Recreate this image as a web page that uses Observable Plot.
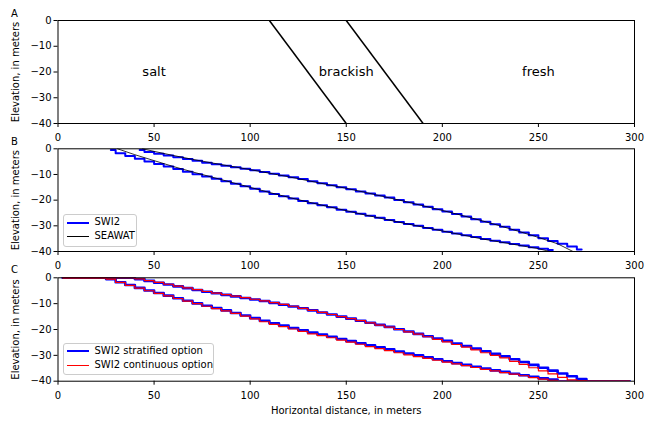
<!DOCTYPE html>
<html><head><meta charset="utf-8">
<script src="https://cdn.jsdelivr.net/npm/d3@7"></script>
<script src="https://cdn.jsdelivr.net/npm/@observablehq/plot@0.6"></script>
<style>
body{margin:0;background:#fff;}
#fig{position:relative;width:653px;height:425px;overflow:hidden;font-family:"DejaVu Sans",sans-serif;background:#fff;color:#000;}
.panel{position:absolute;left:0;}
.tag{position:absolute;font-size:10px;line-height:10px;}
.legend{position:absolute;border:1px solid #cccccc;border-radius:3px;background:rgba(255,255,255,0.8);box-sizing:border-box;}
.legend .sw{position:absolute;}
.legend .lab{position:absolute;font-size:10px;line-height:12px;white-space:nowrap;}
</style></head>
<body><div id="fig"></div>
<script>
// ---------- data ----------
const xTicks = [0, 50, 100, 150, 200, 250, 300];
const yTicks = [0, -10, -20, -30, -40];
const panelTags = ["A", "B", "C"];

// Panel A: initial interfaces
const interfaceTopX = [110, 150];
const interfaceBottomX = [150, 190];
const interfaceTopY = [0, 0];
const interfaceBottomY = [-40, -40];
const zoneNames = ["salt", "brackish", "fresh"];
const zoneX = [50, 150, 250];
const zoneY = [-20, -20, -20];

// Cell centres (5 m columns)
const cellX = [2.5, 7.5, 12.5, 17.5, 22.5, 27.5, 32.5, 37.5, 42.5, 47.5,
  52.5, 57.5, 62.5, 67.5, 72.5, 77.5, 82.5, 87.5, 92.5, 97.5,
  102.5, 107.5, 112.5, 117.5, 122.5, 127.5, 132.5, 137.5, 142.5, 147.5,
  152.5, 157.5, 162.5, 167.5, 172.5, 177.5, 182.5, 187.5, 192.5, 197.5,
  202.5, 207.5, 212.5, 217.5, 222.5, 227.5, 232.5, 237.5, 242.5, 247.5,
  252.5, 257.5, 262.5, 267.5, 272.5, 277.5, 282.5, 287.5, 292.5, 297.5];

// SWI2 stratified option (zeta, m)
const stratUpper = [0, 0, 0, 0, 0, 0, 0, 0,
  -0.5, -1.2, -1.9, -2.6, -3.3, -4.0, -4.7, -5.4, -6.0, -6.6,
  -7.2, -7.8, -8.4, -9.0, -9.7, -10.4, -11.1, -11.8, -12.6, -13.4,
  -14.2, -15.0, -15.8, -16.6, -17.4, -18.2, -19.0, -19.9, -20.8, -21.7,
  -22.6, -23.5, -24.4, -25.4, -26.4, -27.4, -28.4, -29.4, -30.4, -31.5,
  -32.6, -33.7, -34.8, -35.9, -37.0, -38.1, -39.2,
  -40, -40, -40, -40, -40];
const stratLower = [0, 0, 0, 0, 0,
  -0.5, -1.7, -2.8, -3.9, -4.9, -5.9, -6.9, -7.9, -8.9, -9.9,
  -10.8, -11.7, -12.6, -13.6, -14.6, -15.6, -16.6, -17.6, -18.5, -19.4,
  -20.3, -21.2, -22.0, -22.8, -23.7, -24.5, -25.3, -26.1, -26.9, -27.7,
  -28.5, -29.3, -30.0, -30.8, -31.5, -32.3, -33.0, -33.7, -34.4, -35.1,
  -35.8, -36.4, -37.1, -37.7, -38.3, -38.9, -39.4,
  -40, -40, -40, -40, -40, -40, -40, -40];

// SWI2 continuous option (zeta, m)
const contUpper = [0, 0, 0, 0, 0, 0, 0, 0,
  -0.4, -1.1, -1.8, -2.5, -3.2, -3.9, -4.6, -5.3, -5.9, -6.5,
  -7.1, -7.7, -8.3, -8.9, -9.6, -10.3, -11.0, -11.8, -12.6, -13.4,
  -14.2, -15.0, -15.8, -16.6, -17.4, -18.3, -19.1, -20.0, -20.9, -21.8,
  -22.8, -23.8, -24.8, -25.8, -26.8, -27.9, -29.0, -30.0, -31.0, -32.3,
  -33.5, -34.8, -36.0, -37.2, -38.5, -39.5, -39.8,
  -40, -40, -40, -40, -40];
const contLower = [0, 0, 0, 0, 0,
  -0.5, -1.8, -2.9, -4.0, -5.0, -6.0, -7.0, -8.0, -9.0, -10.0,
  -11.0, -11.9, -12.8, -13.8, -14.8, -15.9, -17.0, -18.0, -18.9, -19.8,
  -20.7, -21.7, -22.4, -23.2, -24.1, -24.9, -25.7, -26.6, -27.4, -28.2,
  -29.0, -29.8, -30.5, -31.2, -31.9, -32.6, -33.3, -34.0, -34.7, -35.4,
  -36.0, -36.7, -37.3, -37.9, -38.6, -39.2, -39.7,
  -40, -40, -40, -40, -40, -40, -40, -40];

// SEAWAT contours
const seawatLowerX = [31, 40, 50, 60, 70, 80, 90, 100, 110, 120, 130, 140, 150, 160, 170, 180, 190, 200, 210, 220, 230, 240, 250, 256];
const seawatLowerY = [0, -2.3, -4.6, -6.9, -9.0, -11.0, -13.0, -15.0, -17.0, -18.9, -20.7, -22.4, -24.1, -25.8, -27.4, -29.0, -30.5, -32.0, -33.5, -35.0, -36.3, -37.6, -38.9, -40];
const seawatUpperX = [44, 50, 60, 70, 80, 90, 100, 110, 120, 130, 140, 150, 160, 170, 180, 190, 200, 210, 220, 230, 240, 250, 260, 268];
const seawatUpperY = [0, -1.0, -2.6, -4.1, -5.5, -6.8, -8.1, -9.5, -10.9, -12.4, -13.9, -15.4, -17.0, -18.7, -20.4, -22.2, -24.0, -25.9, -27.9, -30.0, -32.2, -34.5, -37.0, -40];

// ---------- drawing ----------
const W = 653, ML = 57.5, MR = 19;
const fig = document.getElementById("fig");
const style = {fontFamily: "DejaVu Sans", fontSize: "10px", background: "transparent", overflow: "visible", color: "black"};

function axes(xLabel) {
  return [
    Plot.axisX({ticks: xTicks, tickSize: 4, tickPadding: 6.5, label: xLabel, labelAnchor: "center", labelArrow: "none", labelOffset: 33, fontSize: 10}),
    Plot.axisY({ticks: yTicks, tickSize: 4, tickPadding: 2.5, label: "Elevation, in meters", labelAnchor: "center", labelArrow: "none", labelOffset: 46, fontSize: 10})
  ];
}
function place(svg, top) {
  svg.classList.add("panel");
  svg.style.top = top + "px";
  fig.appendChild(svg);
}
const toRows = (xs, ys) => xs.map((x, i) => ({x, y: ys[i]}));

// Panel A
const idx = interfaceTopX.map((_, i) => i);
place(Plot.plot({
  width: W, height: 143, marginTop: 20, marginBottom: 20, marginLeft: ML, marginRight: MR, style,
  x: {domain: [0, 300]}, y: {domain: [-40, 0]},
  marks: [
    ...axes(null),
    Plot.link(idx, {x1: i => interfaceTopX[i], y1: i => interfaceTopY[i], x2: i => interfaceBottomX[i], y2: i => interfaceBottomY[i], stroke: "black", strokeWidth: 1.5}),
    Plot.text(zoneNames, {x: (d, i) => zoneX[i], y: (d, i) => zoneY[i], text: d => d, fontSize: 13, fill: "black"}),
    Plot.frame({stroke: "black", strokeWidth: 1})
  ]
}), 0);

// Panel B
const strat = cellX.map((x, i) => ({x, upper: stratUpper[i], lower: stratLower[i]}));
place(Plot.plot({
  width: W, height: 128, marginTop: 5.3, marginBottom: 20, marginLeft: ML, marginRight: MR, style,
  x: {domain: [0, 300]}, y: {domain: [-40, 0]},
  marks: [
    ...axes(null),
    Plot.line(strat.filter(d => d.lower < 0 && d.lower > -40), {x: "x", y: "lower", curve: "step", stroke: "blue", strokeWidth: 2, clip: true}),
    Plot.line(strat.filter(d => d.upper < 0 && d.upper > -40), {x: "x", y: "upper", curve: "step", stroke: "blue", strokeWidth: 2, clip: true}),
    Plot.line(toRows(seawatLowerX, seawatLowerY), {x: "x", y: "y", stroke: "black", strokeWidth: 0.8, clip: true}),
    Plot.line(toRows(seawatUpperX, seawatUpperY), {x: "x", y: "y", stroke: "black", strokeWidth: 0.8, clip: true}),
    Plot.frame({stroke: "black", strokeWidth: 1})
  ]
}), 143);

// Panel C
const cont = cellX.map((x, i) => ({x, upper: contUpper[i], lower: contLower[i]}));
place(Plot.plot({
  width: W, height: 154, marginTop: 6.3, marginBottom: 44.3, marginLeft: ML, marginRight: MR, style,
  x: {domain: [0, 300]}, y: {domain: [-40, 0]},
  marks: [
    ...axes("Horizontal distance, in meters"),
    Plot.line(strat, {x: "x", y: "lower", curve: "step", stroke: "blue", strokeWidth: 2.6, clip: true}),
    Plot.line(strat, {x: "x", y: "upper", curve: "step", stroke: "blue", strokeWidth: 2.6, clip: true}),
    Plot.line(cont, {x: "x", y: "lower", curve: "step", stroke: "red", strokeWidth: 1.2, clip: true}),
    Plot.line(cont, {x: "x", y: "upper", curve: "step", stroke: "red", strokeWidth: 1.2, clip: true}),
    Plot.frame({stroke: "black", strokeWidth: 1})
  ]
}), 271);

// panel tags
[[8.5], [136.5], [264.5]].forEach(([t], i) => {
  const d = document.createElement("div");
  d.className = "tag"; d.textContent = panelTags[i];
  d.style.left = "11px"; d.style.top = t + "px";
  fig.appendChild(d);
});

// legends
function legend(left, top, width, height, items) {
  const box = document.createElement("div");
  box.className = "legend";
  Object.assign(box.style, {left: left + "px", top: top + "px", width: width + "px", height: height + "px"});
  items.forEach((it, i) => {
    const cy = 7.5 + i * 14.4;
    const sw = document.createElement("div");
    sw.className = "sw";
    Object.assign(sw.style, {left: "3px", width: "22px", top: (cy - it.w / 2) + "px", height: it.w + "px", background: it.color});
    const lab = document.createElement("div");
    lab.className = "lab"; lab.textContent = it.label;
    Object.assign(lab.style, {left: "31px", top: (cy - 6.5) + "px"});
    box.appendChild(sw); box.appendChild(lab);
  });
  fig.appendChild(box);
}
legend(62.5, 214, 74, 32.5, [{label: "SWI2", color: "blue", w: 2}, {label: "SEAWAT", color: "black", w: 1}]);
legend(62.5, 342.5, 151, 32.5, [{label: "SWI2 stratified option", color: "blue", w: 2.6}, {label: "SWI2 continuous option", color: "red", w: 1.2}]);
</script>
</body></html>
